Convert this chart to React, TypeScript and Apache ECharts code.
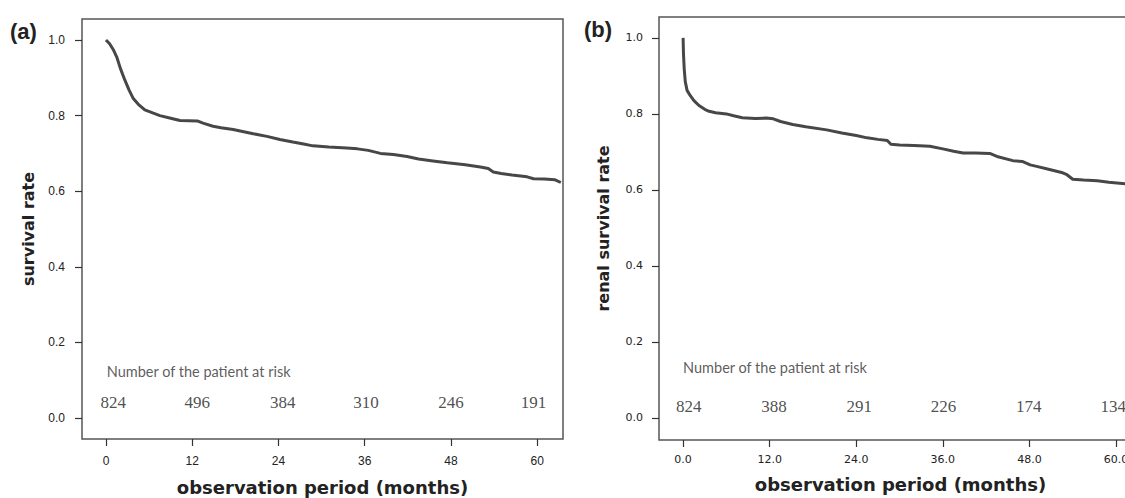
import React, { useEffect, useRef } from "react";
import * as echarts from "echarts";

// Panel (a): overall survival
const monthsA = [0, 0.5, 1, 1.5, 2, 2.6, 3.2, 3.8, 4.5, 5.4, 6.5, 7.5, 9, 10.3, 12.7, 13.5, 14.9, 16, 17.7, 19, 20.5, 22.4, 24.2, 26, 27.5, 28.8, 31, 33.5, 35, 36.5, 38.2, 40, 41.9, 43.5, 45.5, 47.5, 50, 52.1, 53.2, 53.9, 55, 56.5, 58.6, 59.5, 61, 62.5, 63.3];
const survA = [1.0, 0.99, 0.975, 0.955, 0.925, 0.895, 0.868, 0.845, 0.83, 0.815, 0.807, 0.8, 0.793, 0.787, 0.786, 0.78, 0.772, 0.768, 0.763, 0.758, 0.752, 0.745, 0.737, 0.73, 0.725, 0.72, 0.717, 0.714, 0.712, 0.708, 0.7, 0.697, 0.692, 0.685, 0.68, 0.675, 0.67, 0.664, 0.66, 0.651, 0.647, 0.643, 0.638, 0.633, 0.632, 0.63, 0.623];

// Panel (b): renal survival
const monthsB = [0, 0.05, 0.15, 0.3, 0.55, 1, 1.5, 2.2, 3, 3.6, 4.5, 6, 7, 8.2, 10, 11.5, 12.5, 13.5, 15.2, 17, 19.9, 22, 24, 25.5, 27, 28.3, 28.8, 30, 32, 34.2, 36, 37.5, 38.8, 40.5, 42.5, 43.5, 45.7, 47, 48.1, 49, 50.5, 52.6, 53.2, 54, 55.5, 57.4, 59, 61.3, 63];
const survB = [1.0, 0.96, 0.92, 0.885, 0.862, 0.848, 0.835, 0.822, 0.812, 0.807, 0.803, 0.8, 0.795, 0.79, 0.788, 0.789, 0.787, 0.78, 0.772, 0.766, 0.758, 0.75, 0.743, 0.737, 0.733, 0.73, 0.72, 0.718, 0.717, 0.715, 0.708, 0.702, 0.697, 0.697, 0.696, 0.688, 0.677, 0.675, 0.666, 0.662, 0.655, 0.645, 0.64, 0.628, 0.626, 0.624, 0.62, 0.616, 0.613];

// Number at risk
const riskMonthsA = [1.0, 12.7, 24.6, 36.2, 48, 59.5];
const riskA = [824, 496, 384, 310, 246, 191];
const riskMonthsB = [0.8, 12.6, 24.4, 36.1, 47.9, 59.6];
const riskB = [824, 388, 291, 226, 174, 134];
const riskTitle = "Number of the patient at risk";

const xTicks = [0, 12, 24, 36, 48, 60];
const yTicks = [0, 0.2, 0.4, 0.6, 0.8, 1.0];

export default function App() {
  const ref = useRef<HTMLDivElement>(null);
  useEffect(() => {
    if (!ref.current) return;
    const chart = echarts.init(ref.current, null, { renderer: "svg" });
    const line = "#474747";
    const tickStyle = { show: true, inside: false, length: 7, lineStyle: { color: "#333", width: 1.2 } };
    const titleFont = { fontFamily: "DejaVu Sans", fontWeight: "bold" as const, color: "#222" };

    const makeX = (gridIndex: number, fam: string, size: number, fmt: (v: number) => string, nameGap: number, margin: number) => ({
      type: "value",
      gridIndex,
      min: -3.34,
      max: 63.6,
      name: "observation period (months)",
      nameLocation: "middle",
      nameGap,
      nameTextStyle: { ...titleFont, fontSize: 18 },
      axisLine: { show: false, onZero: false },
      axisTick: { ...tickStyle, customValues: xTicks },
      axisLabel: { customValues: xTicks, formatter: fmt, fontFamily: fam, fontSize: size, color: "#222", margin },
      splitLine: { show: false },
    });
    const makeY = (gridIndex: number, name: string, fam: string, size: number, min: number, max: number, nameGap: number, margin: number) => ({
      type: "value",
      gridIndex,
      min,
      max,
      name,
      nameLocation: "middle",
      nameGap,
      nameTextStyle: { ...titleFont, fontSize: 16 },
      axisLine: { show: false, onZero: false },
      axisTick: { ...tickStyle, customValues: yTicks },
      axisLabel: { customValues: yTicks, formatter: (v: number) => v.toFixed(1), fontFamily: fam, fontSize: size, color: "#222", margin },
      splitLine: { show: false },
    });

    const riskSeries = (idx: number, months: number[], vals: number[], y: number, titleY: number, titleX: number) => [
      {
        type: "scatter",
        xAxisIndex: idx,
        yAxisIndex: idx,
        symbolSize: 0,
        silent: true,
        data: months.map((m, i) => [m, y, vals[i]]),
        label: {
          show: true,
          position: "inside",
          formatter: (p: any) => String(p.value[2]),
          fontFamily: "Liberation Serif",
          fontSize: 17,
          color: "#222",
        },
      },
      {
        type: "scatter",
        xAxisIndex: idx,
        yAxisIndex: idx,
        symbolSize: 0,
        silent: true,
        data: [[titleX, titleY]],
        label: {
          show: true,
          position: "inside",
          align: "left",
          formatter: riskTitle,
          fontFamily: "Lato",
          fontSize: 14.5,
          color: "#333",
        },
      },
    ];

    chart.setOption({
      animation: false,
      backgroundColor: "#fff",
      grid: [
        { left: 82, top: 19, width: 481, height: 420, show: true, borderColor: "#555", borderWidth: 1.5, backgroundColor: "transparent", outerBoundsMode: "none", containLabel: false },
        { left: 659, top: 17, width: 483, height: 423, show: true, borderColor: "#555", borderWidth: 1.5, backgroundColor: "transparent", outerBoundsMode: "none", containLabel: false },
      ],
      xAxis: [
        makeX(0, "Liberation Sans", 12, (v: number) => String(v), 39, 16),
        makeX(1, "DejaVu Sans", 11, (v: number) => v.toFixed(1), 35, 14),
      ],
      yAxis: [
        makeY(0, "survival rate", "Liberation Sans", 12, -0.0556, 1.0556, 46, 17),
        makeY(1, "renal survival rate", "DejaVu Sans", 11, -0.058, 1.055, 48, 16),
      ],
      graphic: [
        { type: "text", left: 10, top: 20, style: { text: "(a)", fontFamily: "Liberation Sans", fontWeight: "bold", fontSize: 22, fill: "#222" } },
        { type: "text", left: 584, top: 18, style: { text: "(b)", fontFamily: "Liberation Sans", fontWeight: "bold", fontSize: 22, fill: "#222" } },
      ],
      series: [
        {
          type: "line",
          xAxisIndex: 0,
          yAxisIndex: 0,
          showSymbol: false,
          data: monthsA.map((m, i) => [m, survA[i]]),
          lineStyle: { color: line, width: 3 },
        },
        {
          type: "line",
          xAxisIndex: 1,
          yAxisIndex: 1,
          showSymbol: false,
          data: monthsB.map((m, i) => [m, survB[i]]),
          lineStyle: { color: line, width: 3 },
        },
        ...riskSeries(0, riskMonthsA, riskA, 0.04, 0.124, 0.1),
        ...riskSeries(1, riskMonthsB, riskB, 0.029, 0.134, 0.0),
      ],
    });
    return () => chart.dispose();
  }, []);
  return <div ref={ref} style={{ position: "absolute", left: 0, top: 0, width: 1125, height: 498 }} />;
}
